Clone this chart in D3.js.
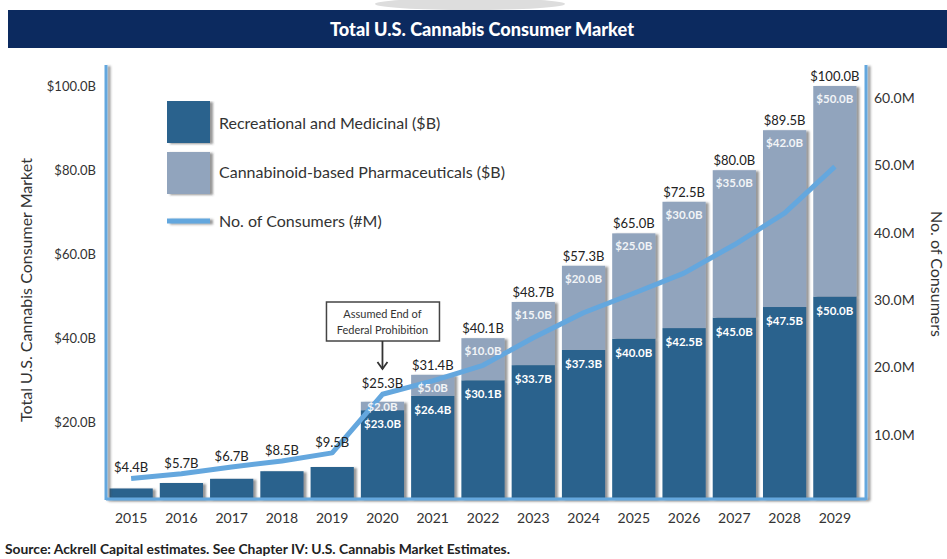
<!DOCTYPE html>
<meta charset="utf-8">
<html>
<head>
<title>Total U.S. Cannabis Consumer Market</title>
<script src="https://d3js.org/d3.v7.min.js"></script>
<style>
  body { margin: 0; background: #fff; }
  svg text { font-family: Lato, "Open Sans", sans-serif; fill: #333; }
  .narrow { font-family: Lato, "Open Sans", sans-serif; font-weight: bold; }
</style>
</head>
<body>
<div id="chart"></div>
<script>
// data
var years = ["2015", "2016", "2017", "2018", "2019", "2020", "2021", "2022", "2023", "2024", "2025", "2026", "2027", "2028", "2029"];
var recreational = [4.4, 5.7, 6.7, 8.5, 9.5, 23.0, 26.4, 30.1, 33.7, 37.3, 40.0, 42.5, 45.0, 47.5, 50.0];
var pharma = [0, 0, 0, 0, 0, 2.0, 5.0, 10.0, 15.0, 20.0, 25.0, 30.0, 35.0, 42.0, 50.0];
var totals = [4.4, 5.7, 6.7, 8.5, 9.5, 25.3, 31.4, 40.1, 48.7, 57.3, 65.0, 72.5, 80.0, 89.5, 100.0];
var consumers = [3.5, 4.2, 5.2, 6.1, 7.3, 16.0, 18.0, 20.3, 24.4, 28.1, 31.0, 34.0, 38.2, 42.9, 49.8];
var leftTicks = [20, 40, 60, 80, 100];
var rightTicks = [10, 20, 30, 40, 50, 60];
var legendNames = ["Recreational and Medicinal ($B)", "Cannabinoid-based Pharmaceuticals ($B)", "No. of Consumers (#M)"];

var width = 947, height = 559;
var plotLeft = 106, plotRight = 866, plotTop = 65, plotBottom = 499;
var darkBlue = "#29628d", greyBlue = "#91a4bd", lineBlue = "#64a7de", navy = "#0c2a5f";

var svg = d3.select("#chart").append("svg")
    .attr("width", width)
    .attr("height", height);

var defs = svg.append("defs");
defs.append("filter").attr("id", "shadow")
    .attr("filterUnits", "userSpaceOnUse")
    .attr("x", 0).attr("y", 0).attr("width", width).attr("height", height)
  .append("feDropShadow")
    .attr("dx", 3).attr("dy", 1)
    .attr("stdDeviation", 1.3)
    .attr("flood-color", "#444")
    .attr("flood-opacity", 0.55);

// title bar
svg.append("ellipse")
    .attr("cx", 470).attr("cy", 4).attr("rx", 95).attr("ry", 6)
    .attr("fill", "#ddd");
svg.append("rect")
    .attr("x", 8).attr("y", 10)
    .attr("width", width - 8).attr("height", 38)
    .attr("fill", navy);
svg.append("text")
    .attr("class", "narrow")
    .attr("x", 330).attr("y", 36)
    .attr("textLength", 304)
    .attr("lengthAdjust", "spacingAndGlyphs")
    .style("font-size", "19px")
    .style("font-weight", "900")
    .style("fill", "#fff")
    .text("Total U.S. Cannabis Consumer Market");

var x = d3.scaleBand()
    .domain(years)
    .range([plotLeft, 860])
    .paddingInner(0.14)
    .paddingOuter(0.07);

var yL = d3.scaleLinear().domain([0, 100]).range([507, 86]);
var yR = d3.scaleLinear().domain([0, 60]).range([502, 98]);

// bars
var rows = years.map(function(d, i) {
  return {year: d, rec: recreational[i], ph: pharma[i], total: totals[i], cons: consumers[i]};
});

var bars = svg.append("g").selectAll("g")
    .data(rows)
    .enter().append("g")
    .attr("filter", "url(#shadow)");

bars.append("rect")
    .attr("x", function(d) { return x(d.year); })
    .attr("width", x.bandwidth())
    .attr("y", function(d) { return yL(d.rec); })
    .attr("height", function(d) { return plotBottom - yL(d.rec); })
    .attr("fill", darkBlue);

bars.filter(function(d) { return d.ph > 0; }).append("rect")
    .attr("x", function(d) { return x(d.year); })
    .attr("width", x.bandwidth())
    .attr("y", function(d) { return yL(d.rec + d.ph); })
    .attr("height", function(d) { return yL(d.rec) - yL(d.rec + d.ph); })
    .attr("fill", greyBlue);

// axis lines
var axisLines = svg.append("g").attr("filter", "url(#shadow)");
axisLines.append("line").attr("x1", plotLeft).attr("x2", plotLeft).attr("y1", plotTop).attr("y2", plotBottom + 1);
axisLines.append("line").attr("x1", plotRight).attr("x2", plotRight).attr("y1", plotTop).attr("y2", plotBottom + 1);
axisLines.append("line").attr("x1", plotLeft).attr("x2", plotRight).attr("y1", plotBottom).attr("y2", plotBottom);
axisLines.selectAll("line").attr("stroke", lineBlue).attr("stroke-width", 3);

// consumers line
var line = d3.line()
    .x(function(d) { return x(d.year) + x.bandwidth() / 2; })
    .y(function(d) { return yR(d.cons); });

svg.append("path")
    .datum(rows)
    .attr("d", line)
    .attr("fill", "none")
    .attr("stroke", lineBlue)
    .attr("stroke-width", 5)
    .attr("stroke-linejoin", "round");

// segment labels
svg.append("g").selectAll("text")
    .data(rows.filter(function(d) { return d.ph > 0; }))
    .enter().append("text")
    .attr("x", function(d) { return x(d.year) + x.bandwidth() / 2; })
    .attr("y", function(d) { return yL(d.rec) + 18; })
    .attr("text-anchor", "middle")
    .style("font-size", "11.5px").style("font-weight", "bold").style("fill", "#fff")
    .text(function(d) { return "$" + d.rec.toFixed(1) + "B"; });

svg.append("g").selectAll("text")
    .data(rows.filter(function(d) { return d.ph > 0; }))
    .enter().append("text")
    .attr("x", function(d) { return x(d.year) + x.bandwidth() / 2; })
    .attr("y", function(d) {
      var h = yL(d.rec) - yL(d.rec + d.ph);
      return yL(d.rec + d.ph) + Math.min(17, h + 1);
    })
    .attr("text-anchor", "middle")
    .style("font-size", "11.5px").style("font-weight", "bold").style("fill", "#f2f4f7")
    .text(function(d) { return "$" + d.ph.toFixed(1) + "B"; });

// total labels
svg.append("g").selectAll("text")
    .data(rows)
    .enter().append("text")
    .attr("x", function(d) { return x(d.year) + x.bandwidth() / 2; })
    .attr("y", function(d) {
      var lab = Math.min(yL(d.rec + d.ph), plotBottom - 15) - 5;
      var ly = yR(d.cons);
      if (Math.abs(ly - lab) < 10) lab = Math.min(lab, ly - 6);
      return lab;
    })
    .attr("text-anchor", "middle")
    .style("font-size", "13px")
    .style("fill", "#222")
    .text(function(d) { return "$" + d.total.toFixed(1) + "B"; });

// axes
var axL = svg.append("g")
    .attr("transform", "translate(" + plotLeft + ",0)")
    .call(d3.axisLeft(yL).tickValues(leftTicks).tickSize(0).tickPadding(10)
      .tickFormat(function(d) { return "$" + d.toFixed(1) + "B"; }));
axL.select(".domain").remove();
axL.selectAll("text").style("font-size", "13px").style("fill", "#333").style("font-family", "Lato, sans-serif");

var axR = svg.append("g")
    .attr("transform", "translate(" + plotRight + ",0)")
    .call(d3.axisRight(yR).tickValues(rightTicks).tickSize(0).tickPadding(8)
      .tickFormat(function(d) { return d.toFixed(1) + "M"; }));
axR.select(".domain").remove();
axR.selectAll("text").style("font-size", "14px").style("fill", "#333").style("font-family", "Lato, sans-serif");

var axX = svg.append("g")
    .attr("transform", "translate(0," + plotBottom + ")")
    .call(d3.axisBottom(x).tickSize(0).tickPadding(14));
axX.select(".domain").remove();
axX.selectAll("text").style("font-size", "14px").style("fill", "#333").style("font-family", "Lato, sans-serif");

// axis titles
svg.append("text")
    .attr("transform", "translate(32,290) rotate(-90)")
    .attr("text-anchor", "middle")
    .style("font-size", "16px")
    .text("Total U.S. Cannabis Consumer Market");

svg.append("text")
    .attr("transform", "translate(931,274) rotate(90)")
    .attr("text-anchor", "middle")
    .style("font-size", "16px")
    .text("No. of Consumers");

// legend
var legend = svg.append("g").attr("transform", "translate(167,101)");
legend.append("rect").attr("width", 43).attr("height", 42).attr("fill", darkBlue).attr("filter", "url(#shadow)");
legend.append("rect").attr("y", 51).attr("width", 43).attr("height", 42).attr("fill", greyBlue).attr("filter", "url(#shadow)");
legend.append("rect").attr("y", 117.5).attr("width", 43).attr("height", 5)
    .attr("fill", lineBlue).attr("filter", "url(#shadow)");
legend.selectAll("text.lg")
    .data(legendNames)
    .enter().append("text")
    .attr("class", "lg")
    .attr("x", 52)
    .attr("y", function(d, i) { return [28, 77, 126][i]; })
    .style("font-size", "16px")
    .text(function(d) { return d; });

// annotation
var ax = x("2020") + x.bandwidth() / 2;
var note = svg.append("g");
note.append("rect")
    .attr("x", ax - 56).attr("y", 302)
    .attr("width", 113).attr("height", 39)
    .attr("fill", "#fff").attr("stroke", "#444").attr("stroke-width", 1.5);
note.append("text").attr("x", ax).attr("y", 318).attr("text-anchor", "middle")
    .style("font-size", "11px").text("Assumed End of");
note.append("text").attr("x", ax).attr("y", 334).attr("text-anchor", "middle")
    .style("font-size", "11px").text("Federal Prohibition");
note.append("line")
    .attr("x1", ax).attr("x2", ax).attr("y1", 341).attr("y2", 369)
    .attr("stroke", "#333").attr("stroke-width", 1.8);
note.append("path")
    .attr("d", "M" + (ax - 5) + ",362 L" + ax + ",369 L" + (ax + 5) + ",362")
    .attr("fill", "none").attr("stroke", "#333").attr("stroke-width", 1.8);

// source
svg.append("text")
    .attr("class", "narrow")
    .attr("x", 5).attr("y", 554)
    .attr("textLength", 505)
    .attr("lengthAdjust", "spacingAndGlyphs")
    .style("font-size", "14px")
    .style("fill", "#222")
    .text("Source: Ackrell Capital estimates. See Chapter IV: U.S. Cannabis Market Estimates.");
</script>
</body>
</html>
